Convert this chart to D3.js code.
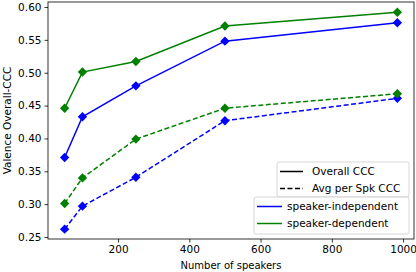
<!DOCTYPE html>
<html>
<head>
<meta charset="utf-8">
<script src="https://cdn.jsdelivr.net/npm/d3@7"></script>
<style>
  body { margin: 0; background: #fff; }
  svg { font-family: "DejaVu Sans", sans-serif; }
</style>
</head>
<body>
<svg id="chart" width="416" height="272"></svg>
<script>
// number of speakers on the x axis
const speakers = [50, 100, 250, 500, 984];

// Overall CCC
const indepOverall = [0.371, 0.433, 0.480, 0.548, 0.576];
const depOverall = [0.446, 0.501, 0.517, 0.571, 0.592];
// Avg per Spk CCC
const indepAvg = [0.262, 0.297, 0.341, 0.427, 0.461];
const depAvg = [0.301, 0.340, 0.399, 0.446, 0.468];

const xTicks = [200, 400, 600, 800, 1000];
const yTicks = [0.25, 0.30, 0.35, 0.40, 0.45, 0.50, 0.55, 0.60];

const margin = { left: 48, top: 2, right: 2, bottom: 33 };
const width = 416, height = 272;
const fs = 10.5;

const svg = d3.select("#chart");

const x = d3.scaleLinear().domain([3.3, 1030.7]).range([margin.left, width - margin.right]);
const y = d3.scaleLinear().domain([0.2470, 0.6076]).range([height - margin.bottom, margin.top]);

// axes
const xAxis = svg.append("g")
    .attr("transform", `translate(0,${height - margin.bottom})`)
    .call(d3.axisBottom(x).tickValues(xTicks).tickFormat(d3.format("d")).tickSize(3.5).tickPadding(3));
const yAxis = svg.append("g")
    .attr("transform", `translate(${margin.left},0)`)
    .call(d3.axisLeft(y).tickValues(yTicks).tickFormat(d3.format(".2f")).tickSize(3.5).tickPadding(3));

[xAxis, yAxis].forEach(a => {
    a.select(".domain").remove();
    a.selectAll("text").attr("font-size", fs).attr("fill", "#000").attr("font-family", "DejaVu Sans");
    a.selectAll("line").attr("stroke", "#000").attr("stroke-width", 0.8);
});

svg.append("text")
    .attr("x", (margin.left + width - margin.right) / 2)
    .attr("y", 269)
    .attr("text-anchor", "middle")
    .attr("font-size", 10)
    .text("Number of speakers");

svg.append("text")
    .attr("transform", `translate(11,${(margin.top + height - margin.bottom) / 2}) rotate(-90)`)
    .attr("text-anchor", "middle")
    .attr("font-size", fs)
    .text("Valence Overall-CCC");

// series
const series = [
    { vals: indepAvg, color: "#0000ff", dash: "5,2.5" },
    { vals: depAvg, color: "#008000", dash: "5,2.5" },
    { vals: indepOverall, color: "#0000ff", dash: null },
    { vals: depOverall, color: "#008000", dash: null }
];

const line = d3.line().x(d => x(d[0])).y(d => y(d[1]));
const diamond = d3.symbol().type(d3.symbolSquare).size(44);

series.forEach(s => {
    const pts = speakers.map((v, i) => [v, s.vals[i]]);
    svg.append("path")
        .datum(pts)
        .attr("fill", "none")
        .attr("stroke", s.color)
        .attr("stroke-width", 1.5)
        .attr("stroke-dasharray", s.dash)
        .attr("d", line);
    svg.append("g").selectAll("path")
        .data(pts)
        .join("path")
        .attr("d", diamond)
        .attr("transform", d => `translate(${x(d[0])},${y(d[1])}) rotate(45)`)
        .attr("fill", s.color);
});

// frame
svg.append("rect")
    .attr("x", margin.left).attr("y", margin.top)
    .attr("width", width - margin.right - margin.left)
    .attr("height", height - margin.bottom - margin.top)
    .attr("fill", "none").attr("stroke", "#000").attr("stroke-width", 0.8);

// legends
function legend(box, items) {
    const g = svg.append("g");
    g.append("rect")
        .attr("x", box.x).attr("y", box.y).attr("width", box.w).attr("height", box.h)
        .attr("rx", 2).attr("fill", "#fff").attr("fill-opacity", 0.8)
        .attr("stroke", "#ccc").attr("stroke-width", 0.8);
    items.forEach((it, i) => {
        const ly = box.y + 9.5 + i * 17;
        g.append("line")
            .attr("x1", box.x + 3).attr("x2", box.x + box.hw)
            .attr("y1", ly).attr("y2", ly)
            .attr("stroke", it.color).attr("stroke-width", 1.5)
            .attr("stroke-dasharray", it.dash);
        g.append("text")
            .attr("x", box.x + box.tx).attr("y", ly + 3.8)
            .attr("font-size", fs)
            .text(it.label);
    });
}

legend({ x: 277, y: 162, w: 132, h: 35, hw: 26, tx: 35 }, [
    { label: "Overall CCC", color: "#000", dash: null },
    { label: "Avg per Spk CCC", color: "#000", dash: "5,2.5" }
]);
legend({ x: 254, y: 197, w: 155, h: 37, hw: 28, tx: 33 }, [
    { label: "speaker-independent", color: "#0000ff", dash: null },
    { label: "speaker-dependent", color: "#008000", dash: null }
]);
</script>
</body>
</html>
